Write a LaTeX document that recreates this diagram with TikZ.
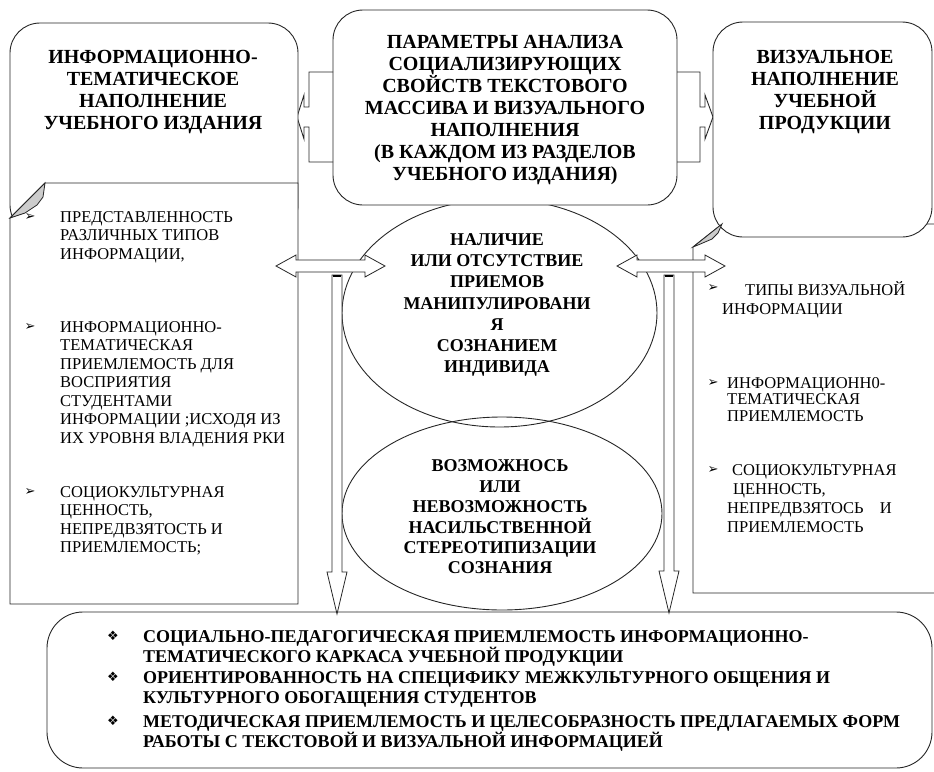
\documentclass[tikz,border=0pt]{standalone}
\usepackage{fontspec}
\setmainfont{Liberation Serif}
\newfontfamily\dingfont{DejaVu Sans}
\usetikzlibrary{shapes.geometric,positioning}
\newcommand{\arrbul}{{\dingfont ➢}}
\newcommand{\diabul}{{\dingfont ❖}}
% block arrows (x1, x2, y) and (x, top, tip)
\newcommand{\hdblarrow}[3]{%
  \draw[blockarr] (#1,#3) -- ({#1+20},{#3-11}) -- ({#1+20},{#3-6}) -- ({#2-20},{#3-6})
    -- ({#2-20},{#3-11}) -- (#2,#3) -- ({#2-20},{#3+11}) -- ({#2-20},{#3+6})
    -- ({#1+20},{#3+6}) -- ({#1+20},{#3+11}) -- cycle;}
\newcommand{\vdownarrow}[3]{%
  \draw[blockarr] ({#1-5},#2) -- ({#1+5},#2) -- ({#1+5},{#3-42}) -- ({#1+10},{#3-42})
    -- (#1,#3) -- ({#1-10},{#3-42}) -- ({#1-5},{#3-42}) -- cycle;
  \draw[line width=2.5pt] ({#1-4},{#2+1}) -- ({#1+4},{#2+1});}

\begin{document}
\begin{tikzpicture}[x=1pt, y=-1pt,
  box/.style={rectangle, draw=black!85, line width=0.9pt, fill=white, rounded corners=30pt},
  oval/.style={ellipse, draw=black!85, line width=0.9pt},
  sheet/.style={draw=black!85, line width=0.9pt, fill=white},
  flap/.style={draw=black!85, line width=0.8pt, fill=gray!40},
  blockarr/.style={draw=black!85, line width=0.8pt, fill=white},
  bracket/.style={draw=black!85, line width=0.9pt},
  title/.style={font=\fontsize{20}{22}\selectfont\bfseries, align=center, inner sep=0pt},
  ovtext/.style={font=\fontsize{18}{21.3}\selectfont\bfseries, align=center, inner sep=0pt},
  item/.style={font=\fontsize{16.5}{18.5}\selectfont, align=left, anchor=north west, inner sep=0pt},
  bitem/.style={font=\fontsize{18}{20}\selectfont\bfseries, align=left, anchor=north west, inner sep=0pt},
  bul/.style={font=\fontsize{13}{13}\selectfont, inner sep=0pt},
]
\useasboundingbox (0,0) rectangle (934,771);
\clip (0,0) rectangle (934,771);

% Ovals
\node[oval, minimum width=315pt, minimum height=228pt] (ovA) at (499.5,313) {};
\node[oval, minimum width=320pt, minimum height=193pt] (ovB) at (502,513.5) {};

% Central box with bracket arrows
\node[box, minimum width=344pt, minimum height=195pt] (par) at (505,107.5) {};
\draw[bracket] (333,72) -- (309,72) -- (309,107) -- (304,107) -- (304,95) -- (297,117)
  -- (304,139) -- (304,127) -- (309,127) -- (309,162) -- (333,162);
\draw[bracket] (677,72) -- (700,72) -- (700,107) -- (705,107) -- (705,95) -- (713,117)
  -- (705,139) -- (705,127) -- (700,127) -- (700,162) -- (677,162);

% Left box and list
\node[box, minimum width=288pt, minimum height=212pt] (boxL) at (154,129) {};
\draw[sheet] (45,183) -- (298,183) -- (298,604) -- (10,604) -- (10,218) -- cycle;
\draw[flap] (10,218) -- (45,183) -- (43,197) -- (37,205) -- (25,213) -- cycle;

% Right list and box
\draw[sheet] (722,224) -- (945,224) -- (945,593) -- (693,593) -- (693,247) -- cycle;
\node[box, minimum width=219pt, minimum height=215pt] (boxR) at (822.5,129.5) {};
\draw[flap] (693,247) -- (722,224) -- (718,233) -- (712,239) -- (698,245) -- cycle;

% Bottom box
\node[box, rounded corners=36pt, minimum width=885pt, minimum height=156pt] (boxB) at (489.5,690) {};

% Titles
\node[title] (ttlL) at (153,92) {ИНФОРМАЦИОННО-\\ТЕМАТИЧЕСКОЕ\\НАПОЛНЕНИЕ\\УЧЕБНОГО ИЗДАНИЯ};
\node[title] (ttlC) at (505,110) {ПАРАМЕТРЫ АНАЛИЗА\\СОЦИАЛИЗИРУЮЩИХ\\СВОЙСТВ ТЕКСТОВОГО\\МАССИВА И ВИЗУАЛЬНОГО\\НАПОЛНЕНИЯ\\(В КАЖДОМ ИЗ РАЗДЕЛОВ\\УЧЕБНОГО ИЗДАНИЯ)};
\node[title] (ttlR) at (825,92) {ВИЗУАЛЬНОЕ\\НАПОЛНЕНИЕ\\УЧЕБНОЙ\\ПРОДУКЦИИ};
\node[ovtext] (txtA) at (497,305) {НАЛИЧИЕ\\ИЛИ ОТСУТСТВИЕ\\ПРИЕМОВ\\МАНИПУЛИРОВАНИ\\Я\\СОЗНАНИЕМ\\ИНДИВИДА};
\node[ovtext, font=\fontsize{18}{20.4}\selectfont\bfseries] (txtB) at (500,517) {ВОЗМОЖНОСЬ\\ИЛИ\\НЕВОЗМОЖНОСТЬ\\НАСИЛЬСТВЕННОЙ\\СТЕРЕОТИПИЗАЦИИ\\СОЗНАНИЯ};

% Left list
\node[bul] (bL1) at (30,217) {\arrbul};
\node[bul] (bL2) at (30,327) {\arrbul};
\node[bul] (bL3) at (30,492) {\arrbul};
\node[item] (itL1) at (60,211) {ПРЕДСТАВЛЕННОСТЬ\\РАЗЛИЧНЫХ ТИПОВ\\ИНФОРМАЦИИ,};
\node[item] (itL2) at (60,321) {ИНФОРМАЦИОННО-\\ТЕМАТИЧЕСКАЯ\\ПРИЕМЛЕМОСТЬ ДЛЯ\\ВОСПРИЯТИЯ\\СТУДЕНТАМИ\\ИНФОРМАЦИИ ;ИСХОДЯ ИЗ\\ИХ УРОВНЯ ВЛАДЕНИЯ РКИ};
\node[item] (itL3) at (60,486) {СОЦИОКУЛЬТУРНАЯ\\ЦЕННОСТЬ,\\НЕПРЕДВЗЯТОСТЬ И\\ПРИЕМЛЕМОСТЬ;};

% Right list
\node[bul] (bR1) at (713,288) {\arrbul};
\node[bul] (bR2) at (713,383) {\arrbul};
\node[bul] (bR3) at (713,470) {\arrbul};
\node[item, font=\fontsize{16.5}{19}\selectfont] (itR1) at (722,281) {\hspace*{23pt}ТИПЫ ВИЗУАЛЬНОЙ\\ИНФОРМАЦИИ};
\node[item, font=\fontsize{16.5}{16.5}\selectfont] (itR2) at (727,377) {ИНФОРМАЦИОНН0-\\ТЕМАТИЧЕСКАЯ\\ПРИЕМЛЕМОСТЬ};
\node[item, font=\fontsize{16.5}{19}\selectfont] (itR3) at (727,464) {\hspace*{5pt}СОЦИОКУЛЬТУРНАЯ\\\hspace*{6pt}ЦЕННОСТЬ,\\НЕПРЕДВЗЯТОСЬ\hspace{12pt} И\\ПРИЕМЛЕМОСТЬ};

% Bottom list
\node[bul] (bB1) at (113,636) {\diabul};
\node[bul] (bB2) at (113,677) {\diabul};
\node[bul] (bB3) at (113,721) {\diabul};
\node[bitem] (itB1) at (143,630) {СОЦИАЛЬНО-ПЕДАГОГИЧЕСКАЯ ПРИЕМЛЕМОСТЬ ИНФОРМАЦИОННО-\\ТЕМАТИЧЕСКОГО КАРКАСА УЧЕБНОЙ ПРОДУКЦИИ};
\node[bitem] (itB2) at (143,671) {ОРИЕНТИРОВАННОСТЬ НА СПЕЦИФИКУ МЕЖКУЛЬТУРНОГО ОБЩЕНИЯ И\\КУЛЬТУРНОГО ОБОГАЩЕНИЯ СТУДЕНТОВ};
\node[bitem] (itB3) at (143,715) {МЕТОДИЧЕСКАЯ ПРИЕМЛЕМОСТЬ И ЦЕЛЕСОБРАЗНОСТЬ ПРЕДЛАГАЕМЫХ ФОРМ\\РАБОТЫ С ТЕКСТОВОЙ И ВИЗУАЛЬНОЙ ИНФОРМАЦИЕЙ};

% Block arrows
\hdblarrow{276}{385}{266}
\hdblarrow{617}{725}{266}
\vdownarrow{337}{275}{614}
\vdownarrow{669}{275}{613}

\end{tikzpicture}
\end{document}
